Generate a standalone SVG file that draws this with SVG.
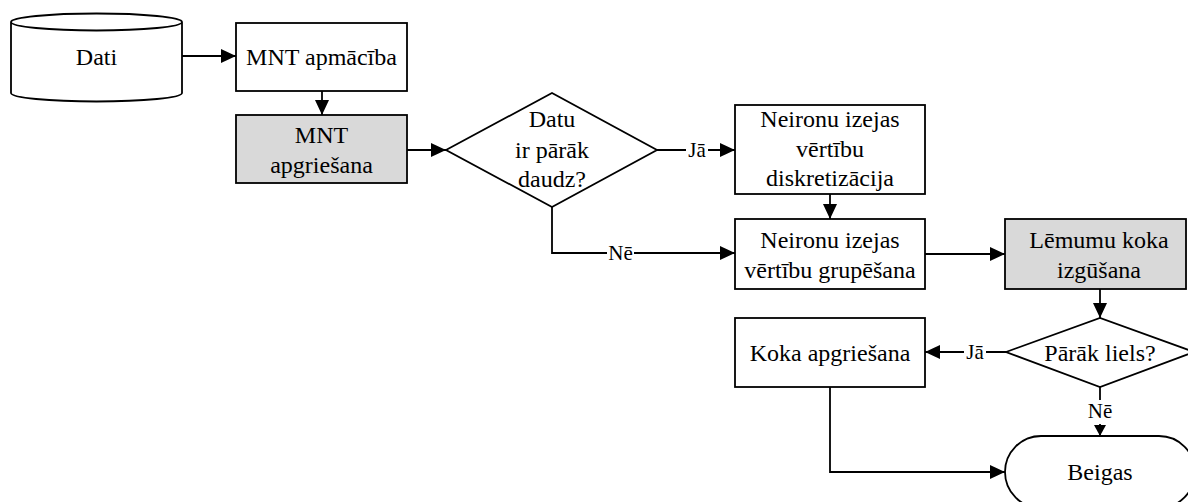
<svg xmlns="http://www.w3.org/2000/svg" width="1188" height="502" viewBox="0 0 1188 502">
<defs>
<style>
.s{fill:#fff;stroke:#000;stroke-width:1.8}
.g{fill:#d9d9d9;stroke:#000;stroke-width:1.8}
.t{font-family:"Liberation Serif","Times New Roman",serif;font-size:24px;fill:#000;text-anchor:middle}
.l{font-family:"Liberation Serif","Times New Roman",serif;font-size:21px;fill:#000;text-anchor:middle}
.c{fill:none;stroke:#000;stroke-width:1.8}
.bg{fill:#fff}
</style>
<marker id="a" markerUnits="userSpaceOnUse" markerWidth="16" markerHeight="14" refX="15" refY="7" orient="auto">
<path d="M0,0 L15,7 L0,14 Z" fill="#000"/>
</marker>
<marker id="b" markerUnits="userSpaceOnUse" markerWidth="12" markerHeight="12" refX="11" refY="6" orient="auto">
<path d="M0,0 L11,6 L0,12 Z" fill="#000"/>
</marker>
</defs>
<rect width="1188" height="502" fill="#fff"/>
<g id="connectors">
<path class="c" d="M182,56 H236" marker-end="url(#a)"/>
<path class="c" d="M322,91 V115" marker-end="url(#a)"/>
<path class="c" d="M407,150 H446" marker-end="url(#a)"/>
<path class="c" d="M657,150 H735" marker-end="url(#a)"/>
<path class="c" d="M830,194 V219" marker-end="url(#a)"/>
<path class="c" d="M552,207 V253 H735" marker-end="url(#a)"/>
<path class="c" d="M925,254 H1005" marker-end="url(#a)"/>
<path class="c" d="M1100,289 V318" marker-end="url(#a)"/>
<path class="c" d="M1006,352 H925" marker-end="url(#a)"/>
<path class="c" d="M1100,387 V436" marker-end="url(#b)"/>
<path class="c" d="M830,387 V472 H1005" marker-end="url(#a)"/>
<rect class="bg" x="686" y="138" width="22" height="24"/>
<text class="l" x="697" y="157">Jā</text>
<rect class="bg" x="607" y="241" width="27" height="24"/>
<text class="l" x="620.5" y="260">Nē</text>
<rect class="bg" x="964" y="340" width="22" height="24"/>
<text class="l" x="975" y="359">Jā</text>
<rect class="bg" x="1086" y="400" width="28" height="24"/>
<text class="l" x="1100" y="418">Nē</text>
</g>
<g id="dati">
<path class="s" d="M11,22 V93 A85.5,8.5 0 0 0 182,93 V22 A85.5,8.5 0 0 0 11,22 A85.5,8.5 0 0 0 182,22"/>
<text class="t" x="96.5" y="65">Dati</text>
</g>
<g id="mnt-apmaciba">
<rect class="s" x="236" y="23" width="171" height="68"/>
<text class="t" x="321.5" y="65">MNT apmācība</text>
</g>
<g id="mnt-apgriesana">
<rect class="g" x="236" y="115" width="171" height="68"/>
<text class="t" x="321.5" y="143">MNT</text>
<text class="t" x="321.5" y="173">apgriešana</text>
</g>
<g id="datu-daudz">
<path class="s" d="M446,150 L552,93 L657,150 L552,207 Z"/>
<text class="t" x="552" y="127">Datu</text>
<text class="t" x="552" y="158">ir pārāk</text>
<text class="t" x="552" y="187">daudz?</text>
</g>
<g id="diskretizacija">
<rect class="s" x="735" y="105" width="190" height="89"/>
<text class="t" x="830" y="127">Neironu izejas</text>
<text class="t" x="830" y="157">vērtību</text>
<text class="t" x="830" y="186">diskretizācija</text>
</g>
<g id="grupesana">
<rect class="s" x="735" y="219" width="190" height="70"/>
<text class="t" x="830" y="248">Neironu izejas</text>
<text class="t" x="830" y="278">vērtību grupēšana</text>
</g>
<g id="lemumu-koks">
<rect class="g" x="1005" y="219" width="181" height="70"/>
<text class="t" x="1099" y="248">Lēmumu koka</text>
<text class="t" x="1099" y="278">izgūšana</text>
</g>
<g id="parak-liels">
<path class="s" d="M1006,352 L1100,318 L1194,352 L1100,387 Z"/>
<text class="t" x="1100" y="361">Pārāk liels?</text>
</g>
<g id="koka-apgriesana">
<rect class="s" x="735" y="318" width="190" height="69"/>
<text class="t" x="830" y="361">Koka apgriešana</text>
</g>
<g id="beigas">
<rect class="s" x="1005" y="436" width="190" height="72" rx="36" ry="36"/>
<text class="t" x="1100" y="480">Beigas</text>
</g>
</svg>
